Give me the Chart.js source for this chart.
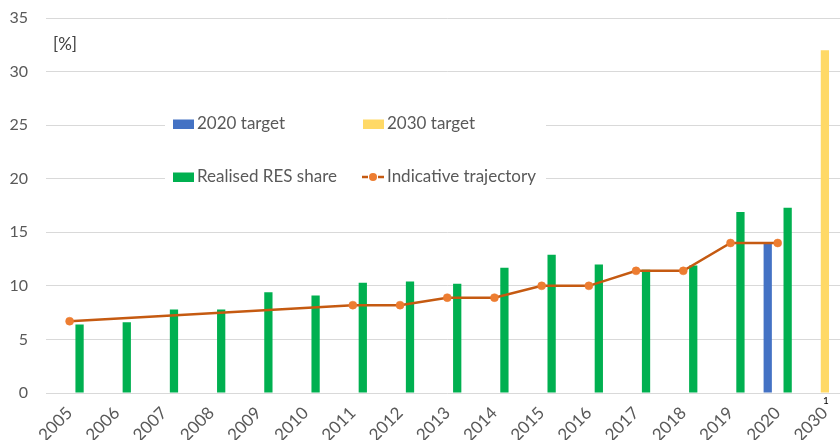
<!DOCTYPE html>
<html>
<head>
<meta charset="utf-8">
<script src="https://cdn.jsdelivr.net/npm/chart.js@4"></script>
<style>
  html, body { margin: 0; padding: 0; background: #fff; overflow: hidden; }
  #wrap { position: relative; width: 853px; height: 440px; }
</style>
</head>
<body>
<div id="wrap"><canvas id="resChart"></canvas></div>
<script>
var years = ["2005", "2006", "2007", "2008", "2009", "2010", "2011", "2012", "2013",
  "2014", "2015", "2016", "2017", "2018", "2019", "2020", "2030"];
var realisedShare = [6.4, 6.6, 7.8, 7.8, 9.4, 9.1, 10.3, 10.4, 10.2,
  11.7, 12.9, 12.0, 11.5, 11.9, 16.9, 17.3, null];
var trajectory = [6.7, null, null, null, null, null, 8.2, 8.2, 8.9,
  8.9, 10.0, 10.0, 11.4, 11.4, 14.0, 14.0, null];
var target2020 = [null, null, null, null, null, null, null, null, null,
  null, null, null, null, null, null, 14, null];
var target2030 = [null, null, null, null, null, null, null, null, null,
  null, null, null, null, null, null, null, 32];
var yTicks = [0, 5, 10, 15, 20, 25, 30, 35];

var FONT = "Lato, 'Open Sans', sans-serif";
var GREY = "#595959";

// legend sits inside the plot, two columns, white box over the gridlines
var legendInside = {
  id: "legendInside",
  beforeDatasetsDraw: function (chart) {
    var ctx = chart.ctx;
    var ds = chart.data.datasets;
    var spots = [
      { i: 1, x: 173, y: 124 },
      { i: 2, x: 363, y: 124 },
      { i: 3, x: 173, y: 177 },
      { i: 0, x: 363, y: 177 }
    ];
    ctx.save();
    ctx.fillStyle = "#fff";
    ctx.fillRect(165, 104, 381, 96);
    ctx.font = "17px " + FONT;
    ctx.textBaseline = "middle";
    ctx.textAlign = "left";
    spots.forEach(function (s) {
      var d = ds[s.i];
      if (d.type === "line") {
        ctx.strokeStyle = d.borderColor;
        ctx.lineWidth = 2.5;
        ctx.beginPath();
        ctx.moveTo(s.x - 1, s.y);
        ctx.lineTo(s.x + 5, s.y);
        ctx.moveTo(s.x + 15, s.y);
        ctx.lineTo(s.x + 21, s.y);
        ctx.stroke();
        ctx.fillStyle = d.pointBackgroundColor;
        ctx.beginPath();
        ctx.arc(s.x + 10, s.y, 4, 0, Math.PI * 2);
        ctx.fill();
      } else {
        ctx.fillStyle = d.backgroundColor;
        ctx.fillRect(s.x, s.y - 4.5, 21, 9.5);
      }
      ctx.fillStyle = GREY;
      ctx.fillText(d.label, s.x + 24, s.y);
    });
    ctx.restore();
  }
};

var extraText = {
  id: "extraText",
  afterDraw: function (chart) {
    var ctx = chart.ctx;
    ctx.save();
    ctx.fillStyle = "#404040";
    ctx.font = "17px " + FONT;
    ctx.textBaseline = "middle";
    ctx.textAlign = "left";
    ctx.fillText("[%]", 53, 45);
    ctx.fillStyle = "#000";
    ctx.font = "10px " + FONT;
    ctx.textAlign = "center";
    ctx.fillText("1", 826, 401);
    ctx.restore();
  }
};

var ctx = document.getElementById("resChart").getContext("2d");
var myChart = new Chart(ctx, {
  type: "bar",
  data: {
    labels: years,
    datasets: [
      {
        type: "line",
        label: "Indicative trajectory",
        data: trajectory,
        borderColor: "#C55A11",
        borderWidth: 2.5,
        pointBackgroundColor: "#ED7D31",
        pointBorderColor: "#ED7D31",
        pointRadius: 4,
        pointBorderWidth: 0.5,
        spanGaps: true,
        tension: 0,
        order: 0,
      },
      {
        label: "2020 target",
        data: target2020,
        backgroundColor: "#4472C4",
        order: 1,
      },
      {
        label: "2030 target",
        data: target2030,
        backgroundColor: "#FFD966",
        order: 1,
      },
      {
        label: "Realised RES share",
        data: realisedShare,
        backgroundColor: "#00B050",
        order: 1,
      },
    ],
  },
  options: {
    responsive: true,
    maintainAspectRatio: false,
    animation: false,
    categoryPercentage: 0.633,
    barPercentage: 0.83,
    layout: { padding: { top: 18, left: 0, right: 0, bottom: 0 } },
    plugins: {
      legend: { display: false },
      tooltip: { enabled: false },
    },
    scales: {
      y: {
        min: 0,
        max: 35,
        afterFit: function (scale) {
          scale.width = 46;
          scale.paddingTop = 8;
          scale.paddingBottom = 8;
        },
        afterBuildTicks: function (scale) {
          scale.ticks = yTicks.map(function (v) { return { value: v }; });
        },
        ticks: { color: GREY, font: { family: FONT, size: 16 }, padding: 18 },
        grid: { color: "#D9D9D9", lineWidth: 1, drawTicks: false },
        border: { display: false },
      },
      x: {
        afterFit: function (scale) { scale.height = 47; },
        ticks: {
          color: GREY,
          font: { family: FONT, size: 17 },
          minRotation: 45,
          maxRotation: 45,
          autoSkip: false,
          padding: 2,
        },
        grid: { display: false },
        border: { display: false },
      },
    },
  },
  plugins: [legendInside, extraText],
});
</script>
</body>
</html>
